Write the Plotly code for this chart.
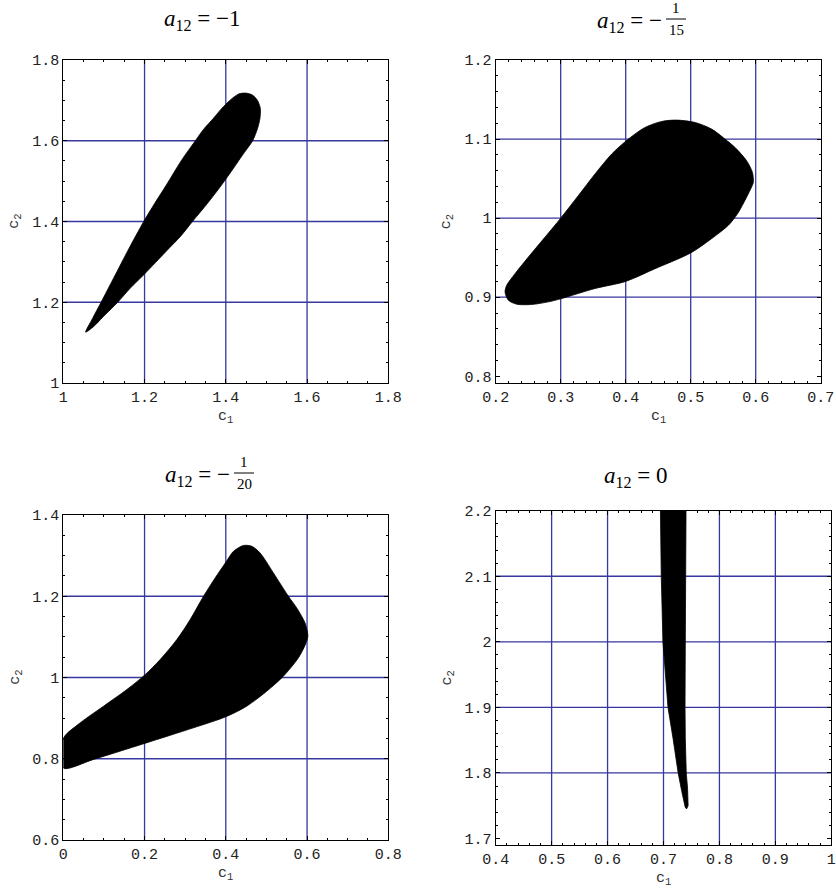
import plotly.graph_objects as go

# ---- region boundaries (c1, c2) for each value of a12 ----
c1_m1 = [1.055, 1.075, 1.097, 1.134, 1.165, 1.200, 1.254, 1.290, 1.318, 1.355, 1.390,
         1.419, 1.445, 1.466, 1.478, 1.484, 1.485, 1.478, 1.466, 1.449, 1.432, 1.410,
         1.390, 1.369, 1.345, 1.325, 1.290, 1.254, 1.225, 1.198, 1.160, 1.125, 1.093, 1.072]
c2_m1 = [1.126, 1.140, 1.163, 1.200, 1.235, 1.270, 1.327, 1.365, 1.400, 1.445, 1.491,
         1.532, 1.570, 1.600, 1.630, 1.655, 1.680, 1.700, 1.713, 1.718, 1.716, 1.700,
         1.680, 1.655, 1.628, 1.600, 1.550, 1.491, 1.445, 1.400, 1.330, 1.262, 1.200, 1.160]

c1_m15 = [0.2144, 0.2195, 0.2323, 0.2554, 0.2810, 0.3000, 0.3528, 0.4000, 0.4450, 0.5000,
          0.5320, 0.5580, 0.5720, 0.5860, 0.5940, 0.5964, 0.5949, 0.5860, 0.5680, 0.5528,
          0.5323, 0.5067, 0.4785, 0.4554, 0.4297, 0.4041, 0.3785, 0.3528, 0.3272, 0.3000,
          0.2759, 0.2503, 0.2297, 0.2169]
c2_m15 = [0.9067, 0.8962, 0.8912, 0.8908, 0.8941, 0.8980, 0.9110, 0.9200, 0.9360, 0.9560,
          0.9740, 0.9910, 1.0055, 1.0265, 1.0400, 1.0454, 1.0580, 1.0727, 1.0895, 1.1000,
          1.1126, 1.1210, 1.1240, 1.1223, 1.1147, 1.1000, 1.0811, 1.0559, 1.0286, 1.0000,
          0.9760, 0.9508, 0.9298, 0.9150]

c1_m20 = [0.0000, 0.0746, 0.2000, 0.3205, 0.4000, 0.4516, 0.5008, 0.5418, 0.5787, 0.5975,
          0.6020, 0.5950, 0.5746, 0.5541, 0.5172, 0.4844, 0.4639, 0.4434, 0.4189, 0.4000,
          0.3738, 0.3451, 0.3123, 0.2795, 0.2385, 0.2000, 0.1566, 0.0992, 0.0418, 0.0000]
c2_m20 = [0.7770, 0.7984, 0.8377, 0.8762, 0.9033, 0.9295, 0.9664, 1.0033, 1.0484, 1.0852,
          1.1030, 1.1344, 1.1713, 1.2000, 1.2574, 1.3066, 1.3230, 1.3250, 1.3107, 1.2836,
          1.2451, 1.2000, 1.1426, 1.0934, 1.0443, 1.0057, 0.9705, 0.9295, 0.8885, 0.8500]

c1_0 = [0.6945, 0.6960, 0.6990, 0.7030, 0.7080, 0.7170, 0.7262, 0.7327, 0.7387, 0.7412,
        0.7440, 0.7430, 0.7407, 0.7390, 0.7385, 0.7390, 0.7398, 0.7403]
c2_0 = [2.2000, 2.1000, 2.0000, 1.9540, 1.9000, 1.8528, 1.8000, 1.7716, 1.7480, 1.7450,
        1.7500, 1.7767, 1.8000, 1.8528, 1.9000, 2.0000, 2.1000, 2.2000]

# ---- axes: ranges, major / minor tick steps, grid-line positions ----
x_ranges = [[1.0, 1.8], [0.2, 0.7], [0.0, 0.8], [0.4, 1.0]]
y_ranges = [[1.0, 1.8], [0.7915, 1.2], [0.6, 1.4], [1.69, 2.2]]
x_dticks = [0.2, 0.1, 0.2, 0.1]
y_dticks = [0.2, 0.1, 0.2, 0.1]
x_minor = [0.05, 0.02, 0.05, 0.02]
y_minor = [0.05, 0.02, 0.05, 0.02]
x_grid = [[1.2, 1.4, 1.6], [0.3, 0.4, 0.5, 0.6], [0.2, 0.4, 0.6], [0.5, 0.6, 0.7, 0.8, 0.9]]
y_grid = [[1.2, 1.4, 1.6], [0.9, 1.0, 1.1], [0.8, 1.0, 1.2], [1.8, 1.9, 2.0, 2.1]]

regions = [(c1_m1, c2_m1), (c1_m15, c2_m15), (c1_m20, c2_m20), (c1_0, c2_0)]
smooth = [True, True, True, False]

W, H = 836, 889
GRID = "rgb(55,55,160)"
MONO = "Liberation Mono"
SERIF = "Liberation Serif"


def fx(p):
    return p / W


def fy(p):
    return 1 - p / H


# plot-area boxes in pixels: (left, right, top, bottom)
boxes = [(63.3, 388.3, 60, 383), (495.7, 820.7, 60, 383),
         (63.3, 388.3, 515, 840), (495.7, 831.3, 510.7, 845)]

fig = go.Figure()
layout = dict(width=W, height=H, margin=dict(l=0, r=0, t=0, b=0, autoexpand=False),
              paper_bgcolor="white", plot_bgcolor="white", showlegend=False)

shapes = []
annotations = []


def label(text, x, y, font, xanchor="center", yanchor="middle", **kw):
    annotations.append(dict(text=text, x=fx(x), y=fy(y), xref="paper", yref="paper",
                            xanchor=xanchor, yanchor=yanchor, showarrow=False,
                            font=font, **kw))


AXF = dict(family=MONO, size=15, color="#333")

for i in range(4):
    n = "" if i == 0 else str(i + 1)
    xa, ya = "x" + n, "y" + n
    l, r, t, b = boxes[i]
    cx, cy = regions[i]
    line = dict(color="black", width=0.8)
    if smooth[i]:
        line.update(shape="spline", smoothing=0.8)
    fig.add_trace(go.Scatter(x=cx + [cx[0]], y=cy + [cy[0]], xaxis=xa, yaxis=ya,
                             mode="lines", fill="toself", fillcolor="black",
                             line=line, hoverinfo="skip"))
    common = dict(showgrid=False, zeroline=False, showline=True, linecolor="black",
                  linewidth=1.2, mirror="allticks", ticks="inside", ticklen=4,
                  tickcolor="black", tickwidth=1, automargin=False,
                  ticklabeloverflow="allow",
                  tickfont=dict(family=MONO, size=15, color="#222"))
    layout["xaxis" + n] = dict(common, range=x_ranges[i], dtick=x_dticks[i], tick0=0,
                               domain=[fx(l), fx(r)], anchor=ya,
                               minor=dict(ticks="inside", ticklen=2, dtick=x_minor[i],
                                          tick0=0, tickcolor="black", showgrid=False))
    layout["yaxis" + n] = dict(common, range=y_ranges[i], dtick=y_dticks[i], tick0=0,
                               domain=[fy(b), fy(t)], anchor=xa,
                               minor=dict(ticks="inside", ticklen=2, dtick=y_minor[i],
                                          tick0=0, tickcolor="black", showgrid=False))
    for g in x_grid[i]:
        shapes.append(dict(type="line", xref=xa, yref=ya + " domain", x0=g, x1=g, y0=0, y1=1,
                           line=dict(color=GRID, width=1.3), layer="below"))
    for g in y_grid[i]:
        shapes.append(dict(type="line", yref=ya, xref=xa + " domain", y0=g, y1=g, x0=0, x1=1,
                           line=dict(color=GRID, width=1.3), layer="below"))
    # axis titles
    label("c<sub>1</sub>", (l + r) / 2, b + 34, AXF)
    label("c<sub>2</sub>", l - 48, (t + b) / 2, AXF, textangle=-90)

# ---- panel titles ----
TF = dict(family=SERIF, size=23, color="black")
FF = dict(family=SERIF, size=15, color="black")


def title_text(rest):
    return "<i>a</i><sub>12</sub> = " + rest


label(title_text("\u22121"), 202, 20, TF)
label(title_text("0"), 636, 477, TF)


def frac_title(x_end, y_mid, den):
    label(title_text("\u2212"), x_end, y_mid + 3, TF, xanchor="right")
    xc = x_end + 12
    label("1", xc, y_mid - 1, FF, yanchor="bottom")
    label(den, xc, y_mid + 1, FF, yanchor="top")
    shapes.append(dict(type="line", xref="paper", yref="paper", x0=fx(xc - 10),
                       x1=fx(xc + 10), y0=fy(y_mid), y1=fy(y_mid),
                       line=dict(color="black", width=1)))


frac_title(664, 19, "15")
frac_title(232, 473, "20")

layout["shapes"] = shapes
layout["annotations"] = annotations
fig.update_layout(**layout)
fig.write_html("out.html")
